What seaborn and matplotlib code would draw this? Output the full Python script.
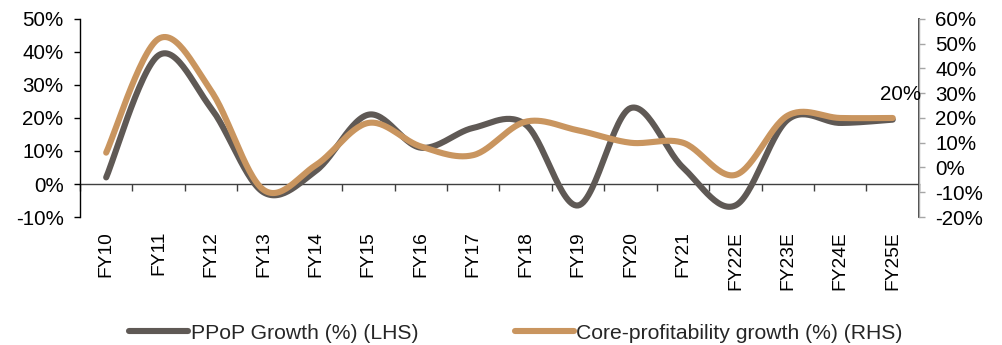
import numpy as np
import pandas as pd
import matplotlib
matplotlib.use("Agg")
import matplotlib.pyplot as plt
import seaborn as sns
from matplotlib.ticker import FuncFormatter

# Fiscal years and growth figures (%)
years = ["FY10", "FY11", "FY12", "FY13", "FY14", "FY15", "FY16", "FY17",
         "FY18", "FY19", "FY20", "FY21", "FY22E", "FY23E", "FY24E", "FY25E"]
ppop_growth = [2, 39, 23, -2.5, 4, 21, 11, 17, 18, -6.5, 23, 5, -6.5, 19.5, 18.5, 19.5]
core_growth = [6, 52, 31, -9, 1, 18, 8.5, 5, 18.5, 15, 10, 10, -3, 21, 20, 20]

GRAY = "#5f5955"
TAN = "#c9955f"


def smooth(xs, ys, n=30):
    """Catmull-Rom style smoothing (the bezier 'smoothed line' of spreadsheet charts)."""
    xs = np.asarray(xs, float)
    ys = np.asarray(ys, float)
    px = np.concatenate([[xs[0]], xs, [xs[-1]]])
    py = np.concatenate([[ys[0]], ys, [ys[-1]]])
    out_x, out_y = [], []
    t = np.linspace(0, 1, n, endpoint=False)
    for i in range(1, len(px) - 2):
        p0 = np.array([px[i], py[i]])
        p3 = np.array([px[i + 1], py[i + 1]])
        c1 = p0 + (np.array([px[i + 1], py[i + 1]]) - np.array([px[i - 1], py[i - 1]])) / 6
        c2 = p3 - (np.array([px[i + 2], py[i + 2]]) - np.array([px[i], py[i]])) / 6
        b = ((1 - t) ** 3)[:, None] * p0 + (3 * (1 - t) ** 2 * t)[:, None] * c1 \
            + (3 * (1 - t) * t ** 2)[:, None] * c2 + (t ** 3)[:, None] * p3
        out_x.extend(b[:, 0])
        out_y.extend(b[:, 1])
    out_x.append(xs[-1])
    out_y.append(ys[-1])
    return np.array(out_x), np.array(out_y)


sns.set_theme(style="white")
plt.rcParams["font.family"] = ["Liberation Sans", "DejaVu Sans"]
plt.rcParams["font.size"] = 14

fig = plt.figure(figsize=(10.02, 3.45), dpi=100)
ax = fig.add_axes([0.0798, 0.371, 0.8373, 0.574])
ax2 = ax.twinx()

pos = np.arange(len(years))
sx, sy = smooth(pos, ppop_growth)
cx, cy = smooth(pos, core_growth)

sns.lineplot(x=sx, y=sy, ax=ax, color=GRAY, lw=4.4, sort=False,
             solid_capstyle="round", label="PPoP Growth (%) (LHS)", legend=False)
sns.lineplot(x=cx, y=cy, ax=ax2, color=TAN, lw=4.4, sort=False,
             solid_capstyle="round", label="Core-profitability growth (%) (RHS)", legend=False)

ax.set_xlim(-0.5, len(years) - 0.5)
ax.set_ylim(-10, 50)
ax2.set_ylim(-20, 60)
ax.set_yticks(np.arange(-10, 51, 10))
ax2.set_yticks(np.arange(-20, 61, 10))
pct = FuncFormatter(lambda v, _: f"{v:.0f}%")
ax.yaxis.set_major_formatter(pct)
ax2.yaxis.set_major_formatter(pct)

# category labels along the bottom of the plot area
ax.set_xticks(pos)
ax.set_xticklabels(years, rotation=90, va="top", ha="center")
ax.tick_params(axis="x", length=0, pad=10, labelsize=13.8, colors="black")
ax.tick_params(axis="y", direction="out", length=4.3, width=1, color="black",
               pad=7.5, labelsize=14.8, labelcolor="black", left=True)
ax2.tick_params(axis="y", direction="out", length=4.3, width=1, color="#a6a6a6",
                pad=7.5, labelsize=14.8, labelcolor="black", right=True)

for a in (ax, ax2):
    a.spines["top"].set_visible(False)
    a.spines["bottom"].set_visible(False)
    a.grid(False)
    a.set_xlabel("")
    a.set_ylabel("")
    a.patch.set_visible(False)
ax.spines["left"].set_color("black")
ax.spines["left"].set_linewidth(1)
ax2.spines["left"].set_visible(False)
ax2.spines["right"].set_color("#a6a6a6")
ax2.spines["right"].set_linewidth(1)

# zero line with category separators
zero_axis = ax.secondary_xaxis(1 / 6)
zero_axis.set_xticks(np.arange(-0.5, len(years), 1))
zero_axis.tick_params(axis="x", direction="out", length=5, width=1, color="#404040",
                      labelbottom=False, labeltop=False)
zero_axis.spines["bottom"].set_color("#404040")
zero_axis.spines["bottom"].set_linewidth(1)
zero_axis.xaxis.set_ticklabels([])

# value label on the last core-profitability point
ax2.annotate(f"{core_growth[-1]:.0f}%", (pos[-1], core_growth[-1]),
             xytext=(6, 17), textcoords="offset points", ha="center", va="center",
             fontsize=14.8, color="black")

h1, l1 = ax.get_legend_handles_labels()
h2, l2 = ax2.get_legend_handles_labels()
fig.legend(h1 + h2, l1 + l2, loc="center", bbox_to_anchor=(0.515, 0.034), ncol=2,
           frameon=False, fontsize=15.2, handlelength=2.8, handletextpad=0.1,
           columnspacing=4.6)

fig.savefig("out.png", dpi=100)
